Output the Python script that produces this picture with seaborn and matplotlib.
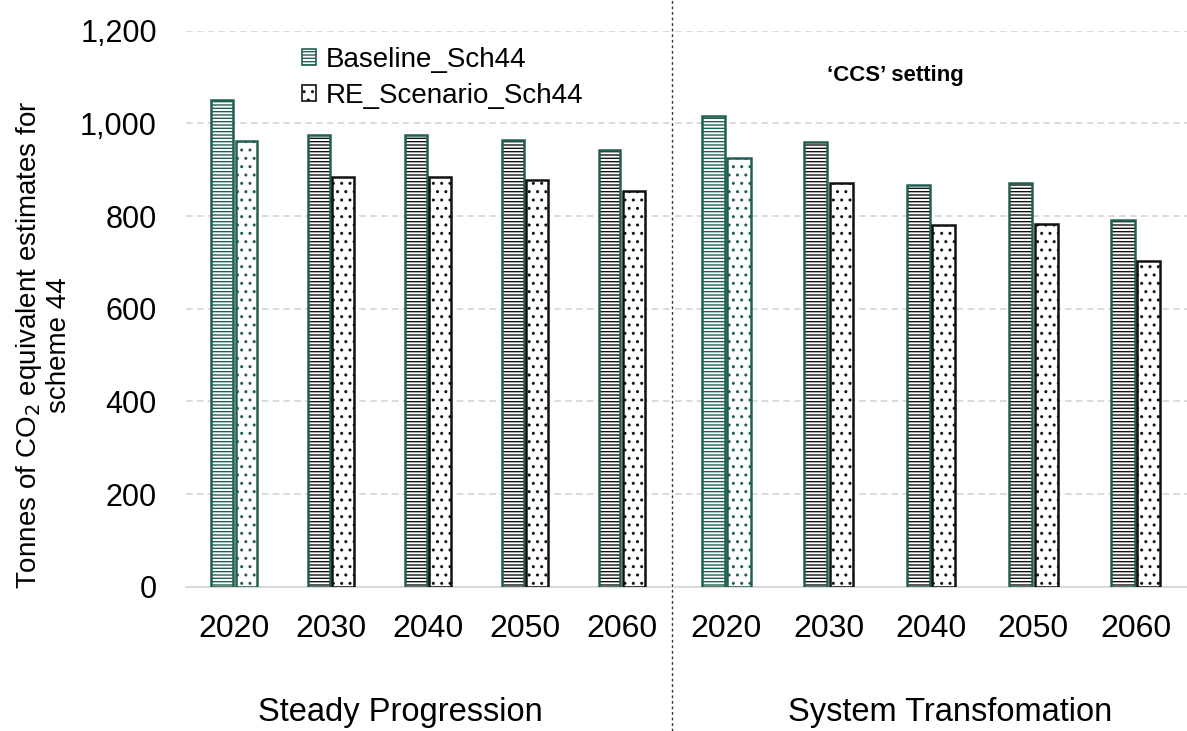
import matplotlib
matplotlib.use("Agg")
import matplotlib.pyplot as plt
import matplotlib.patches as mpatches
from matplotlib.lines import Line2D
import seaborn as sns
import pandas as pd

years = ["2020", "2030", "2040", "2050", "2060"]
series = ["Baseline_Sch44", "RE_Scenario_Sch44"]
sp_baseline = [1051, 975, 975, 965, 942]
sp_re = [963, 885, 885, 877, 853]
st_baseline = [1015, 960, 868, 872, 792]
st_re = [926, 872, 780, 783, 703]
panels = ["Steady Progression", "System Transfomation"]
yticks = [0, 200, 400, 600, 800, 1000, 1200]

TEAL = "#215F52"
BLACK = "#111111"
GRID = "#D4D4D4"

sns.set_theme(style="white")
plt.rcParams["font.family"] = ["Liberation Sans", "DejaVu Sans"]
plt.rcParams["hatch.linewidth"] = 1.0
plt.rcParams["text.color"] = "black"
plt.rcParams["xtick.color"] = "black"
plt.rcParams["ytick.color"] = "black"

W, H = 1187, 731
fig = plt.figure(figsize=(W / 100, H / 100), dpi=100)
bottom = 1 - 586.7 / H
top = 1 - 30.7 / H
axL = fig.add_axes([186 / W, bottom, (670 - 186) / W, top - bottom])
axR = fig.add_axes([675 / W, bottom, (W - 675) / W, top - bottom])


def draw(ax, base, re):
    df = pd.DataFrame({
        "year": years * 2,
        "series": [series[0]] * 5 + [series[1]] * 5,
        "value": base + re,
    })
    sns.barplot(data=df, x="year", y="value", hue="series", ax=ax,
                width=0.5, gap=0.1, palette=["white", "white"],
                legend=False, linewidth=0, errorbar=None)
    for ci, cont in enumerate(ax.containers):
        for bi, bar in enumerate(cont):
            first = bi == 0
            hcol = TEAL if first else BLACK
            ecol = TEAL if (first or ci == 0) else BLACK
            bar.set_hatch("-----" if ci == 0 else "..")
            bar.set_edgecolor(hcol)
            bar.set_linewidth(0)
            bar.set_facecolor("white")
            ax.add_patch(mpatches.Rectangle((bar.get_x(), bar.get_y()),
                                            bar.get_width(), bar.get_height(),
                                            fill=False, edgecolor=ecol,
                                            linewidth=1.8, zorder=3))
    ax.set_ylim(0, 1200)
    ax.set_xlim(-0.5, 4.5)
    ax.set_yticks(yticks)
    ax.yaxis.grid(True, color=GRID, linestyle=(0, (4, 2.5)), linewidth=1.2)
    ax.set_axisbelow(True)
    ax.set_xlabel("")
    ax.set_ylabel("")
    for s in ["top", "right", "left"]:
        ax.spines[s].set_visible(False)
    ax.spines["bottom"].set_color("#D9D9D9")
    ax.spines["bottom"].set_linewidth(1.5)
    ax.tick_params(axis="x", length=0, pad=20, labelsize=23, colors="black")
    ax.tick_params(axis="y", length=0, pad=21, labelsize=22, colors="black")


draw(axL, sp_baseline, sp_re)
draw(axR, st_baseline, st_re)
axL.set_yticklabels([f"{v:,}" for v in yticks])
axR.tick_params(axis="y", labelleft=False)

handles = [
    mpatches.Patch(facecolor="white", edgecolor=TEAL, hatch="-----", linewidth=1.2),
    mpatches.Patch(facecolor="white", edgecolor=BLACK, hatch="..", linewidth=1.2),
]
fig.legend(handles, series, loc="upper left",
           bbox_to_anchor=(302 / W, 1 - 47 / H), frameon=False,
           fontsize=20, handlelength=0.5, handleheight=0.5,
           handletextpad=0.35, borderpad=0, borderaxespad=0,
           labelspacing=0.35)

fig.text(895 / W, 1 - 76 / H, "\u2018CCS\u2019 setting", ha="center",
         va="center", fontsize=16, fontweight="bold")

fig.text(43 / W, 1 - 345 / H,
         "Tonnes of CO$_2$ equivalent estimates for\nscheme 44",
         rotation=90, ha="center", va="center", fontsize=20,
         multialignment="center", linespacing=1.05)

fig.text(400 / W, 1 - 713 / H, panels[0], ha="center", va="center", fontsize=23.5)
fig.text(950 / W, 1 - 713 / H, panels[1], ha="center", va="center", fontsize=23.5)

fig.add_artist(Line2D([672 / W, 672 / W], [0, 1], transform=fig.transFigure,
                      color="#333333", linewidth=1, linestyle=(0, (2, 2))))

fig.savefig("out.png", dpi=100)
